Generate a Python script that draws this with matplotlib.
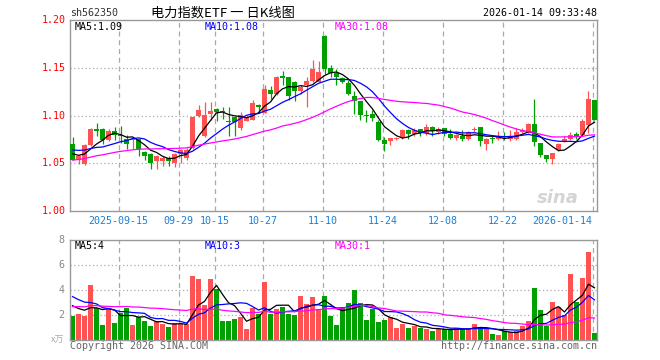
import matplotlib

matplotlib.use("Agg")
import matplotlib.pyplot as plt
import numpy as np
import pandas as pd

# ---- data (daily K-line, 2025-09-03 .. 2026-01-14) ----
tick_idx = [8, 18, 24, 32, 42, 52, 62, 72, 87]
tick_labels = ["2025-09-15", "09-29", "10-15", "10-27", "11-10",
               "11-24", "12-08", "12-22", "2026-01-14"]

open_ = [1.070, 1.054, 1.049, 1.069, 1.086, 1.086, 1.074, 1.084, 1.080, 1.0755,
         1.0745, 1.0755, 1.062, 1.060, 1.0527, 1.0527, 1.0556, 1.0506, 1.060, 1.0556,
         1.066, 1.0996, 1.079, 1.1017, 1.107, 1.105, 1.094, 1.099, 1.087, 1.0947,
         1.0958, 1.111, 1.103, 1.127, 1.1227, 1.141, 1.1405, 1.1353, 1.1258, 1.132,
         1.1363, 1.1353, 1.1835, 1.150, 1.1447, 1.1395, 1.134, 1.1206, 1.1154, 1.100,
         1.1017, 1.0933, 1.0744, 1.0734, 1.0755, 1.0765, 1.085, 1.081, 1.086, 1.082,
         1.088, 1.083, 1.087, 1.0807, 1.0765, 1.0786, 1.0755, 1.0845, 1.088, 1.0702,
         1.0758, 1.0755, 1.078, 1.0755, 1.0755, 1.0828, 1.0828, 1.0912, 1.0713, 1.0587,
         1.0545, 1.064, 1.0723, 1.0755, 1.0807, 1.0797, 1.090, 1.1164]
close = [1.054, 1.058, 1.069, 1.086, 1.084, 1.074, 1.084, 1.080, 1.079, 1.070,
         1.0755, 1.065, 1.058, 1.0506, 1.058, 1.0556, 1.0527, 1.060, 1.064, 1.064,
         1.099, 1.106, 1.1007, 1.105, 1.104, 1.1035, 1.093, 1.0937, 1.1007, 1.0983,
         1.1133, 1.1095, 1.128, 1.1227, 1.1405, 1.140, 1.121, 1.1258, 1.130, 1.1363,
         1.149, 1.1457, 1.149, 1.1447, 1.1405, 1.1353, 1.1227, 1.1154, 1.1007, 1.0992,
         1.0975, 1.0745, 1.0702, 1.0765, 1.0762, 1.085, 1.081, 1.085, 1.082, 1.088,
         1.084, 1.086, 1.0807, 1.0765, 1.0797, 1.0755, 1.0828, 1.0852, 1.0734, 1.0755,
         1.0752, 1.0786, 1.0775, 1.0786, 1.0828, 1.085, 1.0912, 1.0723, 1.0587, 1.0545,
         1.0608, 1.0702, 1.0755, 1.0797, 1.0786, 1.0943, 1.1175, 1.0954]
high = [1.078, 1.059, 1.070, 1.087, 1.092, 1.087, 1.086, 1.088, 1.089, 1.080,
        1.0758, 1.0758, 1.063, 1.061, 1.059, 1.058, 1.058, 1.061, 1.065, 1.066,
        1.0995, 1.111, 1.114, 1.114, 1.1075, 1.1095, 1.109, 1.0995, 1.1037, 1.0995,
        1.1165, 1.112, 1.132, 1.131, 1.1415, 1.1468, 1.1405, 1.136, 1.132, 1.1405,
        1.158, 1.1573, 1.1846, 1.1531, 1.149, 1.1405, 1.137, 1.126, 1.1154, 1.106,
        1.106, 1.0955, 1.0776, 1.077, 1.0775, 1.0855, 1.086, 1.087, 1.0865, 1.0912,
        1.089, 1.088, 1.0875, 1.0855, 1.0805, 1.0845, 1.084, 1.088, 1.0885, 1.0765,
        1.0786, 1.084, 1.083, 1.0845, 1.087, 1.087, 1.092, 1.1175, 1.0715, 1.0587,
        1.061, 1.0713, 1.0786, 1.0828, 1.0828, 1.0965, 1.126, 1.1164]
low = [1.053, 1.049, 1.048, 1.068, 1.079, 1.070, 1.073, 1.074, 1.071, 1.065,
       1.065, 1.0577, 1.0536, 1.044, 1.044, 1.047, 1.047, 1.046, 1.0503, 1.054,
       1.065, 1.099, 1.078, 1.095, 1.094, 1.097, 1.0787, 1.0787, 1.085, 1.094,
       1.0955, 1.103, 1.1025, 1.1175, 1.1215, 1.132, 1.1164, 1.1154, 1.123, 1.109,
       1.1355, 1.135, 1.1437, 1.141, 1.132, 1.134, 1.122, 1.1017, 1.0955, 1.093,
       1.0945, 1.0735, 1.063, 1.069, 1.0745, 1.075, 1.0755, 1.079, 1.079, 1.080,
       1.0786, 1.0807, 1.0786, 1.0755, 1.074, 1.073, 1.0745, 1.0828, 1.068, 1.064,
       1.0713, 1.0745, 1.0745, 1.0734, 1.074, 1.082, 1.082, 1.068, 1.0567, 1.0514,
       1.0493, 1.063, 1.072, 1.074, 1.0755, 1.079, 1.082, 1.0954]
volume = [1.92, 2.08, 1.92, 4.40, 2.56, 1.20, 2.48, 1.36, 2.16, 2.59,
          1.20, 1.84, 1.55, 1.12, 1.55, 1.30, 1.04, 1.36, 1.30, 1.28,
          5.15, 4.90, 2.80, 4.90, 4.10, 1.55, 1.55, 1.68, 1.84, 0.88,
          2.59, 2.08, 4.64, 2.08, 2.48, 2.64, 2.08, 2.00, 3.52, 2.88,
          3.44, 2.45, 3.52, 1.92, 1.20, 2.64, 2.96, 4.00, 2.96, 1.60,
          2.48, 1.44, 1.60, 1.84, 0.96, 1.28, 0.96, 1.12, 0.96, 0.88,
          0.72, 0.88, 0.85, 0.85, 0.96, 0.85, 0.88, 1.28, 1.04, 0.88,
          0.48, 0.40, 0.72, 0.64, 0.72, 1.12, 1.52, 4.16, 2.40, 1.12,
          3.04, 2.64, 2.00, 5.28, 3.04, 4.96, 7.04, 0.56]

# estimated sessions before the visible window (only feed the moving averages)
prev_close = [1.040, 1.042, 1.038, 1.041, 1.044, 1.046, 1.043, 1.045, 1.048, 1.050,
              1.047, 1.049, 1.052, 1.050, 1.053, 1.051, 1.054, 1.056, 1.055, 1.058,
              1.062, 1.066, 1.070, 1.072, 1.070, 1.066, 1.062, 1.060, 1.058]
prev_volume = [2.0, 2.5, 1.8, 2.2, 2.6, 3.0, 2.1, 1.9, 2.4, 2.3,
               2.0, 2.8, 2.5, 1.9, 2.2, 2.4, 2.6, 2.1, 2.3, 1.8,
               4.5, 3.9, 4.8, 3.6, 4.2, 3.2, 2.6, 3.4, 2.6]

RED = "#ff5252"
GREEN = "#00a000"
GRID = "#aaaaaa"
FRAME = "#999999"
MONO = "DejaVu Sans Mono"
FS = 7.2
W, H = 660, 360


def ma(prev, vals, n):
    s = pd.Series(prev + vals).rolling(n).mean().to_numpy()
    return s[len(prev):]


def px_axes(fig, left, top, right, bottom):
    return fig.add_axes([left / W, 1 - bottom / H, (right - left) / W, (bottom - top) / H])


def style_axes(ax):
    ax.set_xticks([])
    ax.set_yticks([])
    for sp in ax.spines.values():
        sp.set_color(FRAME)
        sp.set_linewidth(1.0)
    ax.set_xlim(-0.42, 87.42)
    for i in tick_idx:
        ax.axvline(i - 0.3, color=GRID, lw=0.9, ls=(0, (4, 3)), zorder=0)


n = len(close)
x = np.arange(n)
o = np.array(open_)
c = np.array(close)
up = c >= o
colors = [RED if u else GREEN for u in up]

fig = plt.figure(figsize=(W / 100, H / 100), dpi=100)

# ---------------- price panel ----------------
ax = px_axes(fig, 70, 20.3, 597, 211)
style_axes(ax)
ax.set_ylim(1.00, 1.20)
for v in [1.05, 1.10, 1.15]:
    ax.axhline(v, color=GRID, lw=0.9, ls=(0, (1, 2)), zorder=0)

ax.vlines(x, low, high, colors=colors, lw=0.9, zorder=2)
body = np.maximum(np.abs(c - o), 0.0011)
ax.bar(x, body, bottom=np.minimum(o, c), width=0.83, color=colors, linewidth=0, zorder=3)

ax.plot(x, ma(prev_close, close, 5), color="black", lw=0.9, zorder=4)
ax.plot(x, ma(prev_close, close, 10), color="#0000ff", lw=0.9, zorder=4)
ax.plot(x, ma(prev_close, close, 30), color="#ff00ff", lw=0.9, zorder=4)

for v in [1.00, 1.05, 1.10, 1.15, 1.20]:
    ax.text(-0.008, v, f"{v:.2f}", transform=ax.get_yaxis_transform(),
            ha="right", va="center", color="red", family=MONO, fontsize=FS)
for i, lab in zip(tick_idx, tick_labels):
    # the last date label sits flush left of its grid line
    ha = "right" if i == tick_idx[-1] else "center"
    ax.text(i - 0.3, -0.05, lab, transform=ax.get_xaxis_transform(),
            ha=ha, va="center", color="#1a7fd4", family=MONO, fontsize=FS)

ax.text(5 / 527, 0.965, "MA5:1.09", transform=ax.transAxes, ha="left", va="center",
        color="black", family=MONO, fontsize=FS)
ax.text(135 / 527, 0.965, "MA10:1.08", transform=ax.transAxes, ha="left", va="center",
        color="#0000ff", family=MONO, fontsize=FS)
ax.text(265 / 527, 0.965, "MA30:1.08", transform=ax.transAxes, ha="left", va="center",
        color="#ff00ff", family=MONO, fontsize=FS)
ax.text(0.965, 0.07, "sina", transform=ax.transAxes, ha="right", va="center",
        color="#d4d4d4", fontsize=13, fontweight="bold", style="italic", zorder=1)

# ---------------- volume panel ----------------
av = px_axes(fig, 70, 240, 597, 340)
style_axes(av)
av.set_ylim(0, 8)
for v in [2, 4, 6]:
    av.axhline(v, color=GRID, lw=0.9, ls=(0, (1, 2)), zorder=0)

av.bar(x, volume, width=0.83, color=colors, linewidth=0, zorder=2)
av.plot(x, ma(prev_volume, volume, 5), color="black", lw=0.9, zorder=4)
av.plot(x, ma(prev_volume, volume, 10), color="#0000ff", lw=0.9, zorder=4)
av.plot(x, ma(prev_volume, volume, 30), color="#ff00ff", lw=0.9, zorder=4)

for v in [2, 4, 6, 8]:
    av.text(-0.01, v, str(v), transform=av.get_yaxis_transform(),
            ha="right", va="center", color="#888888", family=MONO, fontsize=FS)
av.text(-0.01, 0, "x万", transform=av.get_yaxis_transform(), ha="right", va="center",
        color="#aaaaaa", family=["Noto Sans CJK SC", "DejaVu Sans"], fontsize=6.5)

av.text(5 / 527, 0.94, "MA5:4", transform=av.transAxes, ha="left", va="center",
        color="black", family=MONO, fontsize=FS)
av.text(135 / 527, 0.94, "MA10:3", transform=av.transAxes, ha="left", va="center",
        color="#0000ff", family=MONO, fontsize=FS)
av.text(265 / 527, 0.94, "MA30:1", transform=av.transAxes, ha="left", va="center",
        color="#ff00ff", family=MONO, fontsize=FS)

# ---------------- header / footer ----------------
fig.text(70 / W, 1 - 13 / H, "sh562350", ha="left", va="center",
         color="#333333", family=MONO, fontsize=FS)
fig.text(223 / W, 1 - 13 / H, "电力指数ETF 一 日K线图", ha="center", va="center",
         color="black", family=["Noto Sans CJK SC", "DejaVu Sans"], fontsize=9.5)
fig.text(597 / W, 1 - 13 / H, "2026-01-14 09:33:48", ha="right", va="center",
         color="black", family=MONO, fontsize=FS)
fig.text(70 / W, 1 - 346 / H, "Copyright 2026 SINA.COM", ha="left", va="center",
         color="#666666", family=MONO, fontsize=FS)
fig.text(597 / W, 1 - 346 / H, "http://finance.sina.com.cn", ha="right", va="center",
         color="#666666", family=MONO, fontsize=FS)

fig.savefig("out.png", dpi=100)
